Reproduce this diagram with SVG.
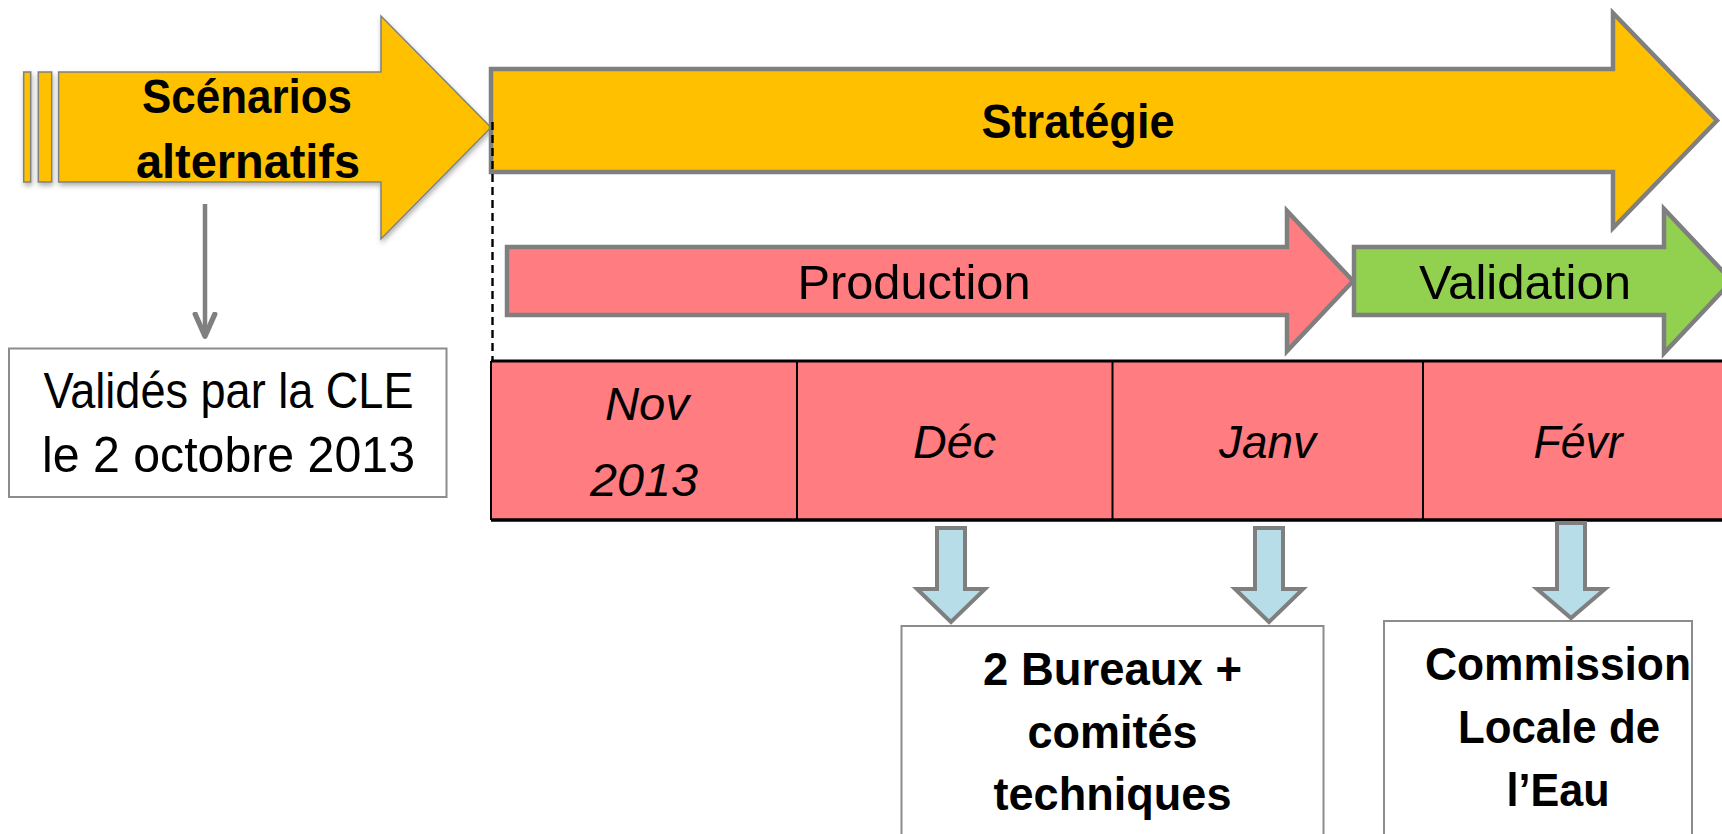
<svg xmlns="http://www.w3.org/2000/svg" width="1722" height="834" viewBox="0 0 1722 834">
<defs>
<style>
text{font-family:"Liberation Sans",Arial,sans-serif;fill:#000;text-anchor:middle}
.b{font-weight:bold;font-size:48px}
.r{font-size:48px}
.i{font-style:italic;font-size:46px}
.bx{font-size:50px}
.bb{font-weight:bold;font-size:47px}
.big{stroke:#7f7f7f;stroke-width:4.5;stroke-linejoin:miter}
.blue{fill:#B7DEE8;stroke:#7f7f7f;stroke-width:4}
.box{fill:#fff;stroke:#8c8c8c;stroke-width:2}
</style>
<filter id="sh" x="-5%" y="-5%" width="112%" height="115%">
<feDropShadow dx="1" dy="3" stdDeviation="2.5" flood-color="#000" flood-opacity="0.3"/>
</filter>
<marker id="ah" viewBox="0 0 12 10" refX="9.5" refY="5" markerWidth="6.5" markerHeight="6.5" orient="auto" markerUnits="strokeWidth">
<path d="M1,1 L10,5 L1,9" fill="none" stroke="#808080" stroke-width="2.2" stroke-linecap="round" stroke-linejoin="round"/>
</marker>
</defs>

<g id="scenarios" filter="url(#sh)">
<rect x="23.7" y="72" width="7" height="110" fill="#FFC000" stroke="#808080" stroke-width="1.5"/>
<rect x="38.3" y="72" width="13.4" height="110" fill="#FFC000" stroke="#808080" stroke-width="1.5"/>
<path d="M58.6,72 H381 V16 L491,127.5 L381,239 V182 H58.6 Z" fill="#FFC000" stroke="#808080" stroke-width="1.5"/>
</g>
<g id="scenarios-label">
<text class="b" x="247" y="113" textLength="210" lengthAdjust="spacingAndGlyphs">Scénarios</text>
<text class="b" x="248" y="178" textLength="224" lengthAdjust="spacingAndGlyphs">alternatifs</text>
</g>

<g id="strategie">
<path class="big" d="M491,69 H1613 V13 L1717,120.5 L1613,228 V172 H491 Z" fill="#FFC000"/>
<text class="b" x="1078" y="138" textLength="193" lengthAdjust="spacingAndGlyphs">Stratégie</text>
</g>

<g id="production">
<path class="big" d="M507,247 H1287 V211 L1353,281 L1287,351 V315 H507 Z" fill="#FF7C80"/>
<text class="r" x="914" y="299" textLength="233" lengthAdjust="spacingAndGlyphs">Production</text>
</g>

<g id="validation">
<path class="big" d="M1354,247 H1664 V209 L1732,281 L1664,353 V315 H1354 Z" fill="#92D050"/>
<text class="r" x="1525" y="299" textLength="212" lengthAdjust="spacingAndGlyphs">Validation</text>
</g>

<g id="calendar">
<rect x="491" y="361" width="1245" height="159" fill="#FF7C80"/>
<line x1="491" y1="361" x2="1736" y2="361" stroke="#000" stroke-width="3"/>
<line x1="491" y1="520" x2="1736" y2="520" stroke="#000" stroke-width="3.5"/>
<line x1="491" y1="361" x2="491" y2="520" stroke="#000" stroke-width="2"/>
<line x1="797" y1="361" x2="797" y2="520" stroke="#000" stroke-width="2"/>
<line x1="1112.5" y1="361" x2="1112.5" y2="520" stroke="#000" stroke-width="2"/>
<line x1="1423" y1="361" x2="1423" y2="520" stroke="#000" stroke-width="2"/>
<text class="i" x="647" y="420" textLength="84" lengthAdjust="spacingAndGlyphs">Nov</text>
<text class="i" x="644" y="496" textLength="108" lengthAdjust="spacingAndGlyphs">2013</text>
<text class="i" x="954.5" y="458" textLength="83" lengthAdjust="spacingAndGlyphs">Déc</text>
<text class="i" x="1267.5" y="458" textLength="97" lengthAdjust="spacingAndGlyphs">Janv</text>
<text class="i" x="1578" y="458" textLength="89" lengthAdjust="spacingAndGlyphs">Févr</text>
</g>

<g id="valides">
<rect class="box" x="9" y="348.5" width="437.5" height="148.5"/>
<text class="bx" x="228.5" y="408" textLength="370" lengthAdjust="spacingAndGlyphs">Validés par la CLE</text>
<text class="bx" x="228.5" y="472" textLength="373" lengthAdjust="spacingAndGlyphs">le 2 octobre 2013</text>
</g>

<g id="bureaux">
<rect class="box" x="901.5" y="626" width="422" height="230"/>
<text class="bb" x="1112.5" y="685" textLength="259" lengthAdjust="spacingAndGlyphs">2 Bureaux +</text>
<text class="bb" x="1112.5" y="748" textLength="170" lengthAdjust="spacingAndGlyphs">comités</text>
<text class="bb" x="1112.5" y="810" textLength="238" lengthAdjust="spacingAndGlyphs">techniques</text>
</g>

<g id="cle">
<rect class="box" x="1384" y="621" width="308" height="235"/>
<text class="bb" x="1558" y="680" textLength="266" lengthAdjust="spacingAndGlyphs">Commission</text>
<text class="bb" x="1559" y="743" textLength="202" lengthAdjust="spacingAndGlyphs">Locale de</text>
<text class="bb" x="1558" y="806" textLength="103" lengthAdjust="spacingAndGlyphs">l’Eau</text>
</g>

<g id="connectors">
<line x1="492.5" y1="122" x2="492.5" y2="361" stroke="#000" stroke-width="2.4" stroke-dasharray="8,5"/>
<line x1="205" y1="204" x2="205" y2="335" stroke="#808080" stroke-width="4.5" marker-end="url(#ah)"/>
<path class="blue" d="M937,528 H965 V589 H985 L951,622 L917,589 H937 Z"/>
<path class="blue" d="M1255,528 H1283 V589 H1303 L1269,622 L1235,589 H1255 Z"/>
<path class="blue" d="M1557,523 H1585 V589 H1605 L1571,618 L1537,589 H1557 Z"/>
</g>
</svg>
